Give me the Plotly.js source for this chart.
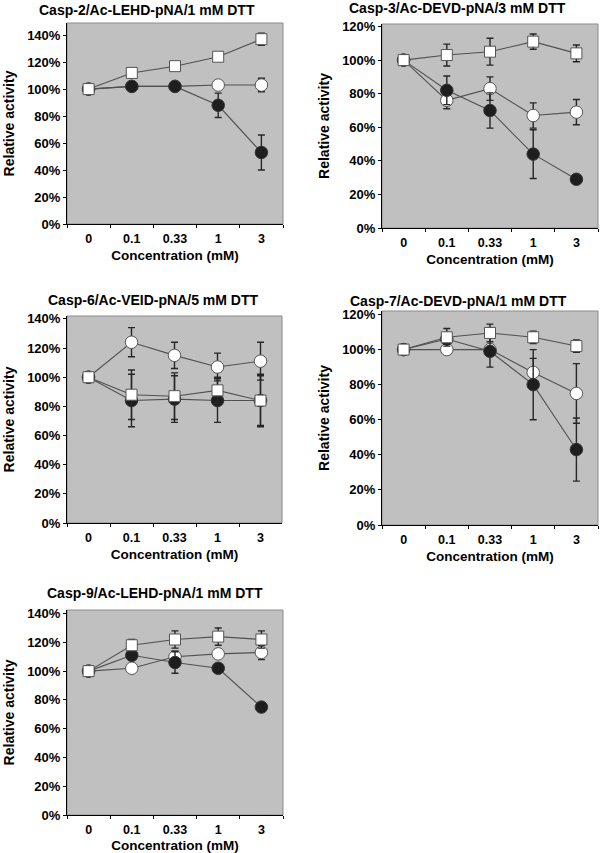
<!DOCTYPE html>
<html>
<head>
<meta charset="utf-8">
<script src="https://cdn.plot.ly/plotly-3.0.1.min.js"></script>
<style>html,body{margin:0;padding:0;background:#fff;}#chart{width:600px;height:853px;}</style>
</head>
<body>
<div id="chart"></div>
<script>
// ---- data ----
const categories = ['0', '0.1', '0.33', '1', '3'];

const panelTitles = [
  'Casp-2/Ac-LEHD-pNA/1 mM DTT',
  'Casp-3/Ac-DEVD-pNA/3 mM DTT',
  'Casp-6/Ac-VEID-pNA/5 mM DTT',
  'Casp-7/Ac-DEVD-pNA/1 mM DTT',
  'Casp-9/Ac-LEHD-pNA/1 mM DTT'
];

// Casp-2
const c2Filled = [100, 102, 102, 88, 53];
const c2FilledErr = [0, 2, 2, 9, 13];
const c2Open = [100, 102, 102, 103, 103];
const c2OpenErr = [0, 1, 1, 2, 5];
const c2Square = [100, 112, 117, 124, 137];
const c2SquareErr = [0, 2, 2, 2, 4.5];

// Casp-3
const c3Filled = [100, 82, 70, 44, 29];
const c3FilledErr = [2, 8.5, 10.5, 14.5, 2];
const c3Open = [100, 76, 83, 67, 69];
const c3OpenErr = [3, 5, 7, 7.5, 7.5];
const c3Square = [100, 103, 105, 111, 104];
const c3SquareErr = [3, 6.5, 8, 4.5, 5];

// Casp-6
const c6Filled = [100, 84, 85, 84, 84];
const c6FilledErr = [0, 18, 16, 15, 18];
const c6Open = [100, 124, 115, 107, 111];
const c6OpenErr = [0, 10, 9, 9.5, 13];
const c6Square = [100, 88, 87, 91, 84];
const c6SquareErr = [0, 17, 16, 9, 17];

// Casp-7
const c7Filled = [100, 106, 99, 80, 43];
const c7FilledErr = [0, 3, 9, 20, 18];
const c7Open = [100, 100, 100, 87, 75];
const c7OpenErr = [0, 2, 3, 8, 17];
const c7Square = [100, 107, 109.5, 107, 102];
const c7SquareErr = [0, 5, 5, 3.5, 3.5];

// Casp-9
const c9Filled = [100, 111, 106, 102, 75];
const c9FilledErr = [0, 3, 7.5, 3, 3];
const c9Open = [100, 102, 110, 112, 113];
const c9OpenErr = [0, 2, 4, 3, 5];
const c9Square = [100, 118, 122, 124, 122];
const c9SquareErr = [0, 4, 6, 6, 6];

const yTickVals = [0, 20, 40, 60, 80, 100, 120, 140];
const yTickText = ['0%', '20%', '40%', '60%', '80%', '100%', '120%', '140%'];

// ---- layout geometry (pixels) ----
const W = 600, H = 853;
const panels = [
  {filled: c2Filled, fe: c2FilledErr, open: c2Open, oe: c2OpenErr, sq: c2Square, se: c2SquareErr,
   box: [67, 283, 23, 224], yTop: 149, yMax: 140, title: [147, 10]},
  {filled: c3Filled, fe: c3FilledErr, open: c3Open, oe: c3OpenErr, sq: c3Square, se: c3SquareErr,
   box: [382, 598, 24, 228], yTop: 121.5, yMax: 120, title: [457, 8]},
  {filled: c6Filled, fe: c6FilledErr, open: c6Open, oe: c6OpenErr, sq: c6Square, se: c6SquareErr,
   box: [67, 282, 316, 523], yTop: 142, yMax: 140, title: [153, 300]},
  {filled: c7Filled, fe: c7FilledErr, open: c7Open, oe: c7OpenErr, sq: c7Square, se: c7SquareErr,
   box: [382, 598, 311, 525], yTop: 122, yMax: 120, title: [458, 301]},
  {filled: c9Filled, fe: c9FilledErr, open: c9Open, oe: c9OpenErr, sq: c9Square, se: c9SquareErr,
   box: [67, 283, 610, 815], yTop: 142.5, yMax: 140, title: [155, 593]}
];

const FONT = 'Liberation Sans, Arial, sans-serif';
const lineColor = '#505050';
const errColor = '#262626';

const data = [];
const layout = {
  width: W, height: H,
  margin: {l: 0, r: 0, t: 0, b: 0},
  paper_bgcolor: '#ffffff',
  plot_bgcolor: '#c0c0c0',
  showlegend: false,
  font: {family: FONT, color: '#000'},
  annotations: [],
  shapes: []
};

panels.forEach((p, i) => {
  const n = i === 0 ? '' : String(i + 1);
  const xa = 'x' + n, ya = 'y' + n;
  const err = arr => ({type: 'data', array: arr, visible: true, color: errColor, thickness: 1.4, width: 3.5});
  const common = {x: categories, xaxis: xa, yaxis: ya, mode: 'lines+markers', type: 'scatter', cliponaxis: false,
    line: {color: lineColor, width: 1.1}};
  data.push(Object.assign({}, common, {name: 'open circle', y: p.open, error_y: err(p.oe),
    marker: {symbol: 'circle', size: 12.5, color: '#ffffff', line: {color: '#555', width: 1}}}));
  data.push(Object.assign({}, common, {name: 'filled circle', y: p.filled, error_y: err(p.fe),
    marker: {symbol: 'circle', size: 12.5, color: '#1e1e1e', line: {color: '#333', width: 1}}}));
  data.push(Object.assign({}, common, {name: 'square', y: p.sq, error_y: err(p.se),
    marker: {symbol: 'square', size: 11, color: '#ffffff', line: {color: '#555', width: 1}}}));

  const [x0, x1, y0, y1] = p.box;
  const tv = yTickVals.filter(v => v <= p.yMax);
  layout['xaxis' + n] = {
    domain: [x0 / W, x1 / W], anchor: ya, type: 'category', range: [-0.5, 4.5],
    tickson: 'boundaries', ticks: 'outside', ticklen: 3, tickcolor: '#000', ticklabelstandoff: 3,
    showline: true, linecolor: '#000', linewidth: 1, showgrid: false, zeroline: false,
    tickfont: {family: FONT, size: 12.5, weight: 'bold', color: '#000'},
    title: {text: 'Concentration (mM)', standoff: 5, font: {family: FONT, size: 13.5, weight: 'bold', color: '#000'}},
    fixedrange: true
  };
  layout['yaxis' + n] = {
    domain: [1 - y1 / H, 1 - y0 / H], anchor: xa, range: [0, p.yTop],
    tickmode: 'array', tickvals: tv, ticktext: yTickText.slice(0, tv.length),
    ticks: 'outside', ticklen: 3, tickcolor: '#000',
    showline: true, linecolor: '#000', linewidth: 1, showgrid: false, zeroline: false,
    tickfont: {family: FONT, size: 13, weight: 'bold', color: '#000'},
    title: {text: 'Relative activity', standoff: 9, font: {family: FONT, size: 14, weight: 'bold', color: '#000'}},
    fixedrange: true
  };
  layout.shapes.push({type: 'rect', xref: xa + ' domain', yref: ya + ' domain', x0: 0, x1: 1, y0: 0, y1: 1,
    line: {color: '#8a8a8a', width: 1}, fillcolor: 'rgba(0,0,0,0)', layer: 'below'});
  layout.annotations.push({text: panelTitles[i], xref: 'paper', yref: 'paper',
    x: p.title[0] / W, y: 1 - p.title[1] / H, xanchor: 'center', yanchor: 'middle', showarrow: false,
    font: {family: FONT, size: 14, weight: 'bold', color: '#000'}});
});

Plotly.newPlot('chart', data, layout, {staticPlot: true, displayModeBar: false});
</script>
</body>
</html>
